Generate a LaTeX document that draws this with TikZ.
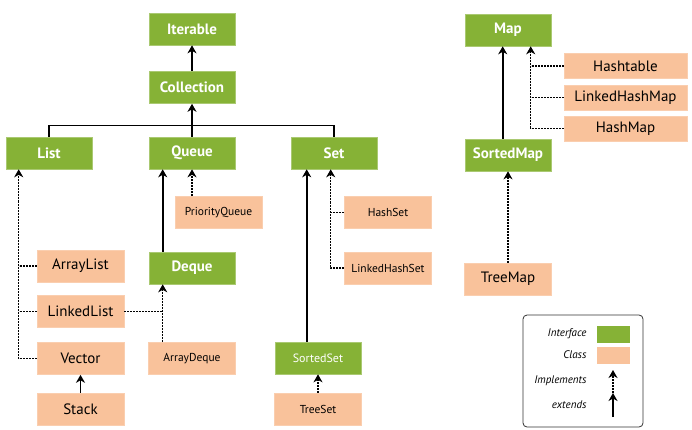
\documentclass[tikz,border=0pt]{standalone}
\usepackage{fontspec}
\setmainfont{PT Sans}
\usetikzlibrary{arrows.meta,positioning}
\definecolor{ifgreen}{HTML}{86B236}
\definecolor{clsorange}{HTML}{F9C29B}
\tikzset{
  iface/.style={fill=ifgreen, draw=ifgreen!70!white, line width=0.6pt,
                minimum width=86pt, minimum height=32pt, inner sep=0pt,
                text=white, font=\fontsize{15}{17}\selectfont\bfseries},
  cls/.style={fill=clsorange, draw=clsorange!80!white, line width=0.6pt,
              minimum width=87pt, minimum height=32pt, inner sep=0pt,
              font=\fontsize{15}{17}\selectfont},
  clss/.style={cls, font=\fontsize{11.5}{13}\selectfont},
  clsw/.style={cls, minimum width=123pt, minimum height=25pt},
  ext/.style={-{Stealth[length=8pt,width=9pt,inset=2.5pt]}, line width=1.6pt},
  dline/.style={line width=1.4pt, dash pattern=on 2pt off 1pt},
  impl/.style={dline, -{Stealth[length=8pt,width=9pt,inset=2.5pt]}},
  legtext/.style={anchor=east, font=\fontsize{11}{13}\selectfont\itshape},
}

\begin{document}
\begin{tikzpicture}[x=1pt, y=-1pt]
\useasboundingbox (0,0) rectangle (692,430);

% collection hierarchy
\node[iface] (iterable)   at (192, 29)    {Iterable};
\node[iface] (collection) at (192, 87.5)  {Collection};
\node[iface] (list)       at (49, 153)    {List};
\node[iface] (queue)      at (192, 153)   {Queue};
\node[iface] (set)        at (334, 153)   {Set};

\node[clss] (prioqueue)   at (218.5, 212.5) {PriorityQueue};
\node[clss] (hashset)     at (388, 212.5)   {HashSet};
\node[clss] (lhashset)    at (388, 268)     {LinkedHashSet};
\node[cls]  (arraylist)   at (80.5, 266)    {ArrayList};
\node[iface] (deque)      at (192, 268)     {Deque};
\node[cls]  (linkedlist)  at (80.5, 311.5)  {LinkedList};
\node[cls]  (vector)      at (80.5, 358.5)  {Vector};
\node[clss] (arraydeque)  at (192, 358.5)   {ArrayDeque};
\node[cls]  (stack)       at (80.5, 409)    {Stack};
\node[iface, font=\fontsize{12}{14}\selectfont] (sortedset) at (318, 358) {SortedSet};
\node[clss] (treeset)     at (318, 409)     {TreeSet};

% map hierarchy
\node[iface] (map)        at (508, 30)      {Map};
\node[clsw] (hashtable)   at (625.5, 66)    {Hashtable};
\node[clsw] (lhashmap)    at (625.5, 97.5)  {LinkedHashMap};
\node[clsw] (hashmap)     at (625.5, 128.5) {HashMap};
\node[iface] (sortedmap)  at (508, 155)     {SortedMap};
\node[cls]  (treemap)     at (508, 279)     {TreeMap};

\draw[ext] (collection) -- (iterable);
\draw[line width=1.6pt] (list.north) -- ++(0,-11) -| (set.north);
\draw[ext] (queue) -- (collection);

\draw[impl] (vector.west) -| ([xshift=13]list.south west);
\draw[dline] (arraylist.west) -- ([xshift=13]list.south west |- arraylist.west);
\draw[dline] (linkedlist.west) -- ([xshift=13]list.south west |- linkedlist.west);

\draw[ext] ([xshift=14]queue.south west |- deque.north) -- ([xshift=14]queue.south west);
\draw[impl] (queue.south |- prioqueue.north) -- (queue.south);
\draw[impl] ([xshift=14]deque.south west |- arraydeque.north) -- ([xshift=14]deque.south west);
\draw[dline] (linkedlist.east) -- ([xshift=14]deque.south west |- linkedlist.east);
\draw[ext] (stack) -- (vector);

\draw[ext] ([xshift=16]set.south west |- sortedset.north) -- ([xshift=16]set.south west);
\draw[impl] (lhashset.west) -| ([xshift=40]set.south west);
\draw[dline] (hashset.west) -- ([xshift=40]set.south west |- hashset.west);
\draw[impl] (treeset) -- (sortedset);

\draw[ext] ([xshift=38]map.south west |- sortedmap.north) -- ([xshift=38]map.south west);
\draw[impl] (hashmap.west) -| ([xshift=66]map.south west);
\draw[dline] (hashtable.west) -- ([xshift=66]map.south west |- hashtable.west);
\draw[dline] (lhashmap.west) -- ([xshift=66]map.south west |- lhashmap.west);
\draw[impl] (treemap) -- (sortedmap);

% legend
\node[draw=black!80, rounded corners=4pt, line width=0.8pt, minimum width=120pt,
      minimum height=112pt] (legend) at (583, 371) {};
\node[legtext] (lint) at (590, 334) {Interface};
\node[legtext] (lcls) at (590, 355) {Class};
\node[legtext] (limp) at (590, 381) {Implements};
\node[legtext] (lext) at (590, 405) {extends};
\node[fill=ifgreen, minimum width=33pt, minimum height=17pt, inner sep=0pt,
      right=7pt of lint] (swint) {};
\node[fill=clsorange, minimum width=33pt, minimum height=17pt, inner sep=0pt,
      right=7pt of lcls] (swcls) {};
\coordinate (impfrom) at (613, 393);
\coordinate (impto) at (613, 370);
\coordinate (extfrom) at (613, 417);
\coordinate (extto) at (613, 393);
\draw[impl, line width=1.1pt] (impfrom) -- (impto);
\draw[ext, line width=1.3pt] (extfrom) -- (extto);

\end{tikzpicture}
\end{document}
